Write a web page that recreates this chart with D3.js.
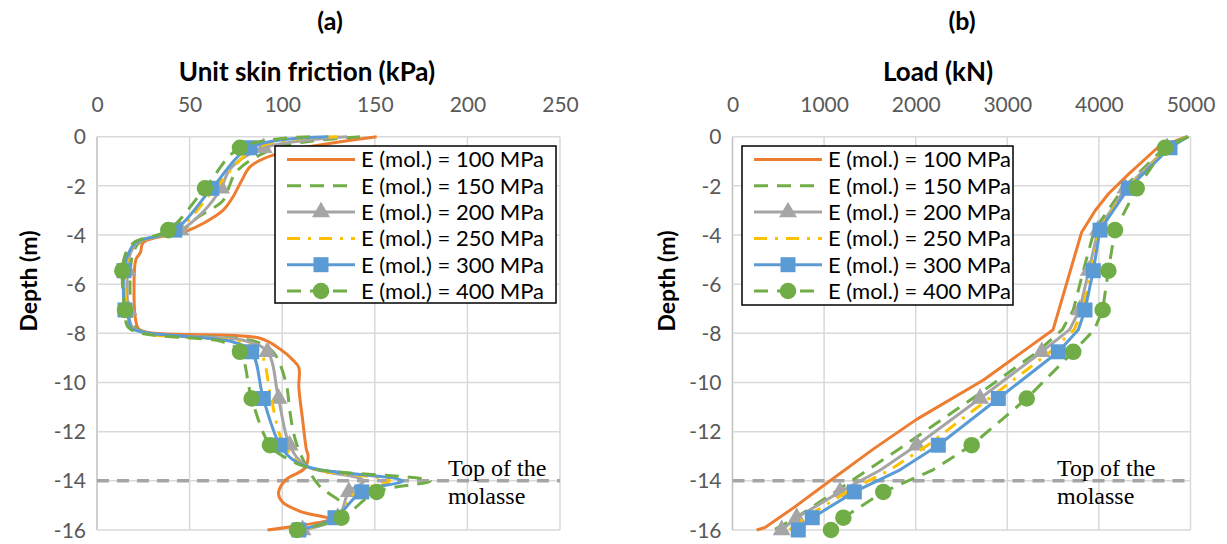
<!DOCTYPE html>
<html><head><meta charset="utf-8">
<script src="https://cdn.jsdelivr.net/npm/d3@7"></script>
<style>
html,body{margin:0;padding:0;background:#fff;}
svg text{font-family:Lato,"Open Sans",sans-serif;}
</style></head>
<body><svg id="c" width="1227" height="544"></svg>
<script>
// ---------- data ----------
const seriesNames = ["E (mol.) = 100 MPa","E (mol.) = 150 MPa","E (mol.) = 200 MPa","E (mol.) = 250 MPa","E (mol.) = 300 MPa","E (mol.) = 400 MPa"];
const markerDepths = [-0.45,-2.1,-3.8,-5.45,-7.05,-8.75,-10.65,-12.55,-14.45,-15.5,-16];
const depthTicks = [0,-2,-4,-6,-8,-10,-12,-14,-16];
const frictionTicks = [0,50,100,150,200,250];
const loadTicks = [0,1000,2000,3000,4000,5000];
const molasseDepth = -14;

// panel (a): unit skin friction (kPa), pairs [depth, value]
const friction100 = [[0,151],[-0.7,97],[-1.2,83],[-1.8,78],[-2.5,73],[-3.0,68],[-3.5,58],[-3.85,48],[-4.3,25],[-4.7,23.5],[-5.0,21],[-6.2,20],[-7.5,21],[-7.85,23],[-8.2,88],[-8.65,99],[-9.1,106],[-9.4,109],[-10.2,109],[-11.5,111],[-12.7,113],[-13.0,114],[-13.5,112],[-13.95,102],[-14.5,98],[-14.85,100],[-15.25,110],[-15.55,125],[-16,92]];
const friction150 = [[0,142],[-0.45,97],[-1.4,75.5],[-2.1,71],[-2.6,68],[-3.3,54],[-3.8,46],[-4.3,23],[-4.75,19.5],[-5.45,18],[-7.05,18.5],[-7.8,21],[-8.3,84],[-8.75,95],[-10,102],[-11.1,104],[-12,106],[-12.55,108],[-13.4,113],[-14.2,120],[-14.5,125],[-15,133],[-15.5,131],[-16,110]];
const friction200 = [[0,135],[-0.45,90],[-1.3,72],[-2.1,67],[-3.0,58],[-3.8,45],[-4.3,22],[-4.75,18],[-5.45,16.5],[-7.05,17],[-7.8,20],[-8.3,80],[-8.75,92],[-10.65,98],[-12.55,104],[-13.4,113],[-14,144],[-14.45,136],[-15.5,130],[-16,111]];
const friction250 = [[0,130],[-0.45,86],[-2.1,64],[-3.8,43],[-4.3,21.5],[-4.75,17.5],[-5.45,15.5],[-7.05,16],[-7.8,19],[-8.35,77],[-8.75,88],[-10.65,94],[-12.55,101],[-13.4,112],[-14,158],[-14.45,140],[-15.5,129],[-16,110]];
const friction300 = [[0,125],[-0.45,82.6],[-2.1,62],[-3.8,42],[-4.3,21],[-4.75,17],[-5.45,14.6],[-7.05,15.1],[-7.45,17.3],[-7.8,18.7],[-8.35,73.6],[-8.75,83.5],[-10.65,89.8],[-12.55,98.8],[-13.15,106],[-13.5,117],[-14,165],[-14.45,143],[-15.5,128.5],[-16,109]];
const friction400 = [[0,115],[-0.45,77.2],[-2.1,58.3],[-3.8,38.5],[-4.3,20],[-4.75,15.5],[-5.45,13.7],[-7.05,15.1],[-7.8,17.5],[-8.35,68],[-8.75,77.2],[-10.65,83.5],[-12.55,93.4],[-13.15,104],[-13.5,116],[-14,180],[-14.45,151],[-15.5,132],[-16,108]];

// panel (b): load (kN), pairs [depth, value]
const load100 = [[0,4960],[-0.45,4640],[-1.5,4330],[-2.3,4110],[-3.0,3960],[-3.9,3810],[-7.85,3500],[-9.9,2740],[-11.5,2010],[-12.7,1540],[-14.15,1010],[-15.15,646],[-15.9,355],[-16,264]];
const load150 = [[0,4960],[-0.45,4715],[-2.1,4265],[-3.8,3950],[-5.45,3830],[-7.05,3720],[-7.85,3600],[-8.75,3330],[-10.65,2620],[-12.55,1880],[-13.55,1480],[-14.45,1120],[-15.5,690],[-16,450]];
const load200 = [[0,4960],[-0.45,4745],[-2.1,4290],[-3.8,3990],[-5.45,3890],[-7.05,3790],[-7.85,3680],[-8.75,3376],[-10.65,2702],[-12.55,2011],[-13.55,1620],[-14.45,1174],[-15.5,701],[-16,537]];
const load250 = [[0,4960],[-0.45,4760],[-2.1,4305],[-3.8,4000],[-5.45,3915],[-7.05,3820],[-7.85,3730],[-8.75,3470],[-10.65,2800],[-12.55,2130],[-13.55,1720],[-14.45,1250],[-15.5,790],[-16,620]];
const load300 = [[0,4970],[-0.45,4776],[-2.1,4321],[-3.8,4012],[-5.45,3939],[-7.05,3848],[-7.85,3776],[-8.75,3557],[-10.65,2902],[-12.55,2247],[-13.55,1830],[-14.45,1330],[-15.5,871],[-16,718]];
const load400 = [[0,4980],[-0.45,4722],[-2.1,4413],[-3.8,4176],[-5.45,4103],[-7.05,4041],[-7.85,3950],[-8.75,3720],[-10.65,3212],[-12.55,2611],[-13.55,2190],[-14.45,1646],[-15.5,1210],[-16,1075]];

// ---------- styles ----------
const styles = [
  {color:"#ED7D31", dash:null, marker:null},
  {color:"#70AD47", dash:"14,9", marker:null},
  {color:"#A5A5A5", dash:null, marker:"triangle"},
  {color:"#FFC000", dash:"13,8,3,8", marker:null},
  {color:"#5B9BD5", dash:null, marker:"square"},
  {color:"#70AD47", dash:"14,9", marker:"circle"}
];

const svg = d3.select("#c");
const yTop = 136.7, yBot = 530;

function markerPath(type){
  if(type==="triangle") return d3.symbol(d3.symbolTriangle, 140)();
  if(type==="square") return d3.symbol(d3.symbolSquare, 225)();
  if(type==="circle") return d3.symbol(d3.symbolCircle, 215)();
  return null;
}

function panel(opt){
  const x = d3.scaleLinear().domain(opt.xDomain).range([opt.left, opt.right]);
  const y = d3.scaleLinear().domain([-16,0]).range([yBot, yTop]);
  const g = svg.append("g");

  // gridlines
  g.selectAll(".vg").data(opt.xTicks).join("line")
    .attr("x1",d=>x(d)).attr("x2",d=>x(d)).attr("y1",yTop).attr("y2",yBot)
    .attr("stroke",d=>d===0?"#BFBFBF":"#D9D9D9").attr("stroke-width",1.5);
  g.selectAll(".hg").data(depthTicks).join("line")
    .attr("x1",opt.left).attr("x2",opt.right).attr("y1",d=>y(d)).attr("y2",d=>y(d))
    .attr("stroke","#D9D9D9").attr("stroke-width",1.5);

  // top x axis labels
  const xAxis = d3.axisTop(x).tickValues(opt.xTicks).tickSize(0).tickPadding(0).tickFormat(d3.format("d"));
  const xa = g.append("g").attr("transform",`translate(0,${yTop-25})`).call(xAxis);
  xa.select(".domain").remove();
  xa.selectAll("text").attr("fill","#595959").style("font-size","21px").style("font-family","Lato");

  // left y axis labels
  const yAxis = d3.axisLeft(y).tickValues(depthTicks).tickSize(0).tickPadding(0).tickFormat(d=>d===0?"0":"-"+Math.abs(d));
  const ya = g.append("g").attr("transform",`translate(${opt.left-11},0)`).call(yAxis);
  ya.select(".domain").remove();
  ya.selectAll("text").attr("fill","#595959").style("font-size","21px").style("font-family","Lato").attr("dy","0.34em");

  // molasse line
  g.append("line").attr("x1",opt.left).attr("x2",opt.right).attr("y1",y(molasseDepth)).attr("y2",y(molasseDepth))
    .attr("stroke","#A5A5A5").attr("stroke-width",3.5).attr("stroke-dasharray","12,8");

  // series
  const line = d3.line().x(d=>x(d[1])).y(d=>y(d[0])).curve(opt.curve);
  opt.data.forEach((ser,i)=>{
    const st = styles[i];
    g.append("path").attr("d",line(ser)).attr("fill","none").attr("stroke",st.color)
      .attr("stroke-width",3).attr("stroke-linejoin","round")
      .attr("stroke-dasharray",st.dash);
    if(st.marker){
      const pts = ser.filter(p=>markerDepths.some(m=>Math.abs(m-p[0])<1e-6));
      g.selectAll(null).data(pts).join("path")
        .attr("d",markerPath(st.marker))
        .attr("transform",p=>`translate(${x(p[1])},${y(p[0])})`)
        .attr("fill",st.color);
    }
  });

  // annotation
  const t = g.append("text").attr("x",opt.noteX).attr("y",475.5)
    .style("font-family","'Liberation Serif','Times New Roman',serif").style("font-size","24px").attr("fill","#000");
  t.append("tspan").attr("x",opt.noteX).text("Top of the");
  t.append("tspan").attr("x",opt.noteX).attr("dy",28).text("molasse");

  // legend
  const L = opt.legend;
  g.append("rect").attr("x",L.x).attr("y",L.y).attr("width",L.w).attr("height",L.h)
    .attr("fill","#fff").attr("stroke","#000").attr("stroke-width",1.5);
  seriesNames.forEach((name,i)=>{
    const st = styles[i];
    const ry = L.y + 13.5 + i*26.3;
    g.append("line").attr("x1",L.x+12).attr("x2",L.x+80).attr("y1",ry).attr("y2",ry)
      .attr("stroke",st.color).attr("stroke-width",3).attr("stroke-dasharray",st.dash);
    if(st.marker){
      g.append("path").attr("d",markerPath(st.marker)).attr("transform",`translate(${L.x+46},${ry})`).attr("fill",st.color);
    }
    g.append("text").attr("x",L.x+86).attr("y",ry).attr("dy","0.36em")
      .style("font-size","22px").attr("fill","#000").text(name);
  });

  // titles
  svg.append("text").attr("x",opt.capX).attr("y",30).attr("text-anchor","middle")
    .style("font-size","25px").style("font-weight","bold").text(opt.caption);
  svg.append("text").attr("x",opt.titleX).attr("y",81).attr("text-anchor","middle")
    .style("font-size","26px").style("font-weight","bold").text(opt.title);
  svg.append("text").attr("transform",`translate(${opt.depthX},281) rotate(-90)`).attr("text-anchor","middle")
    .style("font-size","23px").style("font-weight","bold").text("Depth (m)");
}

panel({left:97,right:560,xDomain:[0,250],xTicks:frictionTicks,
  data:[friction100,friction150,friction200,friction250,friction300,friction400],
  curve:d3.curveCatmullRom.alpha(0.5),noteX:448,
  legend:{x:275,y:146,w:281,h:157},
  caption:"(a)",capX:330,title:"Unit skin friction (kPa)",titleX:307,depthX:37});

panel({left:732.5,right:1190.5,xDomain:[0,5000],xTicks:loadTicks,
  data:[load100,load150,load200,load250,load300,load400],
  curve:d3.curveLinear,noteX:1057,
  legend:{x:742,y:146,w:271,h:159},
  caption:"(b)",capX:962,title:"Load (kN)",titleX:938,depthX:675});
</script></body></html>
